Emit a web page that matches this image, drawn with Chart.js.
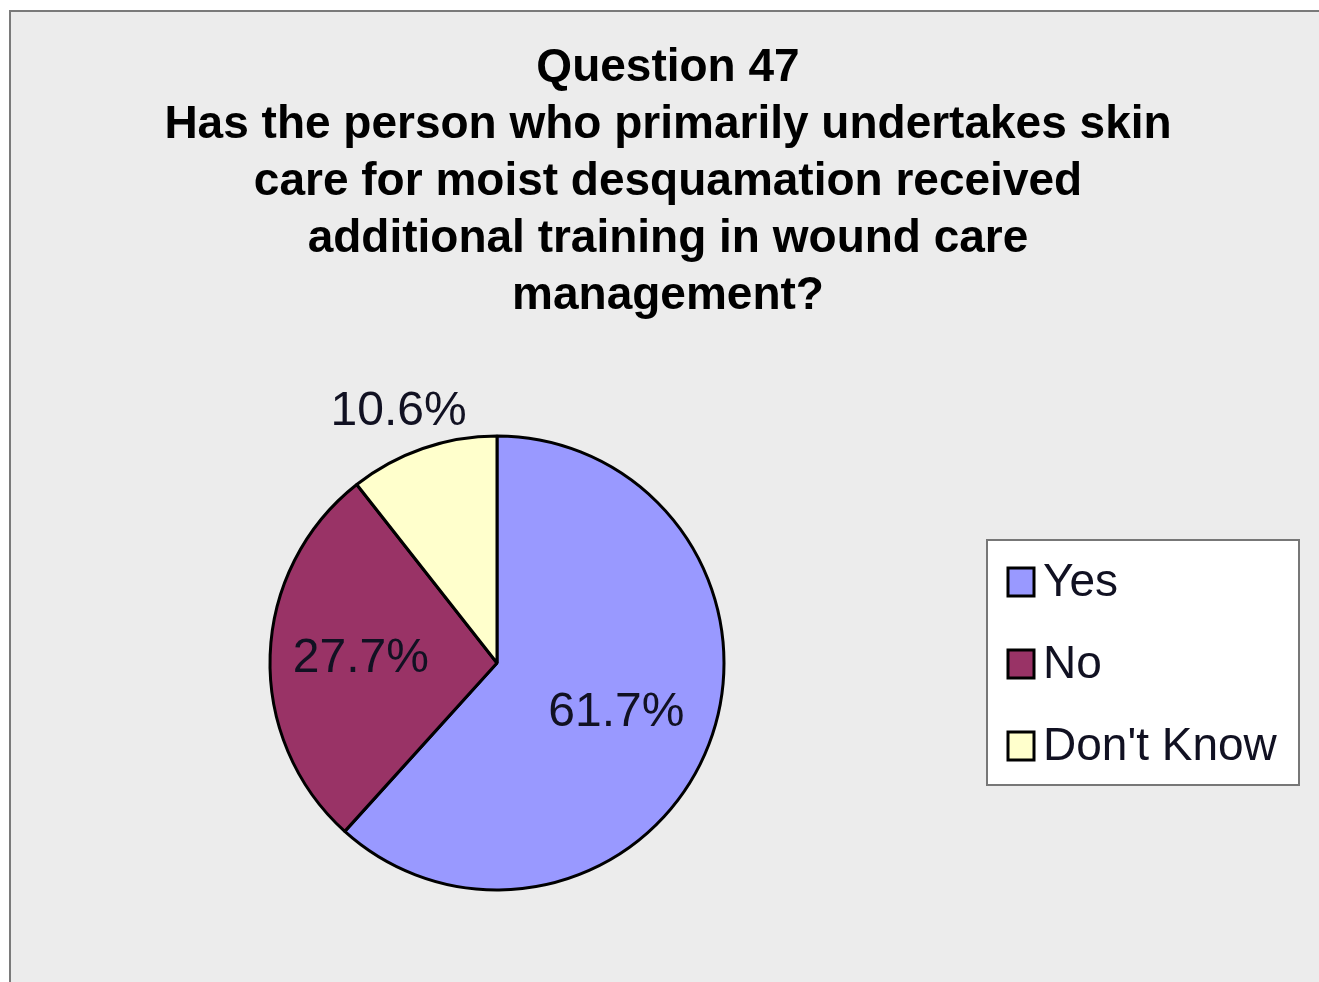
<!DOCTYPE html>
<html>
<head>
<meta charset="utf-8">
<script src="https://cdn.jsdelivr.net/npm/chart.js@4"></script>
<style>
  html, body { margin: 0; padding: 0; background: #fff; width: 1319px; height: 982px; overflow: hidden; }
  #frame {
    position: absolute; left: 9px; top: 10px; width: 1310px; height: 970px;
    background: #ececec; border-left: 2px solid #7a7a7a; border-top: 2px solid #7a7a7a;
    border-bottom: 1px solid #d0d0d0;
  }
  #wrap { position: absolute; left: 0; top: 0; width: 1319px; height: 982px; }
</style>
</head>
<body>
<div id="frame"></div>
<div id="wrap"><canvas id="c1"></canvas></div>
<script>
const answers = ['Yes', 'No', "Don't Know"];
const shares = [61.7, 27.7, 10.6];
const sliceColors = ['#9999ff', '#993366', '#ffffcc'];
const titleLines = [
  'Question 47',
  'Has the person who primarily undertakes skin',
  'care for moist desquamation received',
  'additional training in wound care',
  'management?'
];

const FONT = '"Liberation Sans", Helvetica, Arial, sans-serif';

// multi-line title centred over the whole frame
const wideTitle = {
  id: 'wideTitle',
  afterDraw(chart, args, opts) {
    const ctx = chart.ctx;
    ctx.save();
    ctx.font = 'bold ' + opts.size + 'px ' + FONT;
    ctx.fillStyle = '#000';
    ctx.textAlign = 'center';
    ctx.textBaseline = 'middle';
    opts.lines.forEach((t, i) => ctx.fillText(t, opts.x, opts.y + i * opts.lineHeight));
    ctx.restore();
  }
};

// percentage labels placed along each slice's middle angle
const sliceLabels = {
  id: 'sliceLabels',
  afterDatasetsDraw(chart, args, opts) {
    const ctx = chart.ctx;
    const arcs = chart.getDatasetMeta(0).data;
    ctx.save();
    ctx.font = '48px ' + FONT;
    ctx.fillStyle = '#111122';
    ctx.textAlign = 'center';
    ctx.textBaseline = 'middle';
    arcs.forEach((arc, i) => {
      const mid = (arc.startAngle + arc.endAngle) / 2 + opts.turn[i];
      const r = arc.outerRadius * opts.factors[i];
      const x = arc.x + Math.cos(mid) * r;
      const y = arc.y + Math.sin(mid) * r;
      ctx.fillText(chart.data.datasets[0].data[i].toFixed(1) + '%', x, y);
    });
    ctx.restore();
  }
};

// boxed legend on the right
const boxLegend = {
  id: 'boxLegend',
  afterDraw(chart, args, opts) {
    const ctx = chart.ctx;
    const ds = chart.data.datasets[0];
    ctx.save();
    ctx.fillStyle = '#ffffff';
    ctx.fillRect(opts.left, opts.top, opts.width, opts.height);
    ctx.strokeStyle = '#777777';
    ctx.lineWidth = 2;
    ctx.strokeRect(opts.left, opts.top, opts.width, opts.height);
    ctx.font = '46px ' + FONT;
    ctx.textBaseline = 'middle';
    chart.data.labels.forEach((lab, i) => {
      const cy = opts.top + opts.firstY + i * opts.step;
      ctx.fillStyle = ds.backgroundColor[i];
      ctx.fillRect(opts.left + 21, cy - 14, 26, 28);
      ctx.strokeStyle = '#000';
      ctx.lineWidth = 3;
      ctx.strokeRect(opts.left + 21, cy - 14, 26, 28);
      ctx.fillStyle = '#111122';
      ctx.fillText(lab, opts.left + 56, cy + 1);
    });
    ctx.restore();
  }
};

const ctx = document.getElementById('c1').getContext('2d');
new Chart(ctx, {
  type: 'pie',
  data: {
    labels: answers,
    datasets: [{
      data: shares,
      backgroundColor: sliceColors,
      borderColor: '#000000',
      borderWidth: 3,
      radius: 227
    }]
  },
  options: {
    responsive: true,
    maintainAspectRatio: false,
    animation: false,
    layout: { padding: { left: 270, right: 595, top: 436, bottom: 92 } },
    plugins: {
      legend: { display: false },
      tooltip: { enabled: false },
      title: { display: false },
      wideTitle: { lines: titleLines, x: 668, y: 68, lineHeight: 57, size: 46 },
      sliceLabels: { factors: [0.57, 0.6, 1.19], turn: [0.03, 0, -0.04] },
      boxLegend: { left: 987, top: 540, width: 312, height: 245, firstY: 42, step: 82 }
    }
  },
  plugins: [sliceLabels, boxLegend, wideTitle]
});
</script>
</body>
</html>
